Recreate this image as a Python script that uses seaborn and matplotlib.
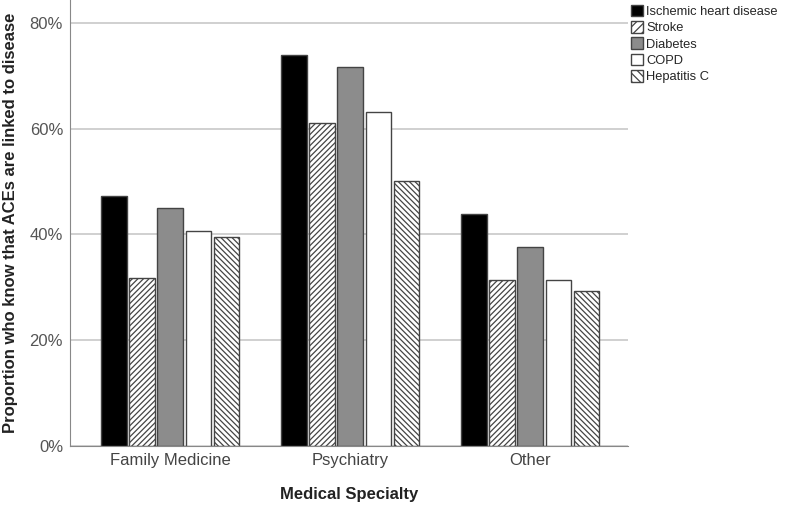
import matplotlib
matplotlib.use("Agg")
import matplotlib.pyplot as plt
import seaborn as sns
import pandas as pd
from matplotlib.patches import Patch

specialties = ["Family Medicine", "Psychiatry", "Other"]
diseases = ["Ischemic heart disease", "Stroke", "Diabetes", "COPD", "Hepatitis C"]
ischemic = [47.3, 73.9, 43.9]
stroke = [31.8, 61.1, 31.4]
diabetes = [45.0, 71.7, 37.6]
copd = [40.7, 63.2, 31.4]
hepatitis_c = [39.5, 50.1, 29.3]
y_ticks = [0, 20, 40, 60, 80]
y_tick_labels = ["0%", "20%", "40%", "60%", "80%"]

series = [ischemic, stroke, diabetes, copd, hepatitis_c]
rows = []
for d, vals in zip(diseases, series):
    for s, v in zip(specialties, vals):
        rows.append({"Specialty": s, "Disease": d, "Value": v})
df = pd.DataFrame(rows)

sns.set_style("white")
plt.rcParams["font.family"] = ["Liberation Sans", "DejaVu Sans"]
plt.rcParams["hatch.linewidth"] = 0.9
plt.rcParams["hatch.color"] = "#333333"

fills = ["#000000", "#ffffff", "#8c8c8c", "#ffffff", "#ffffff"]
hatches = [None, "//////", None, None, "\\\\\\\\\\\\"]

fig = plt.figure(figsize=(7.87, 5.05), dpi=100)
ax = fig.add_axes([70/787, 59/505, (628-70)/787, 446/505])

sns.barplot(data=df, x="Specialty", y="Value", hue="Disease", order=specialties,
            hue_order=diseases, palette=fills, width=0.78, gap=0.1,
            edgecolor="#444444", linewidth=1.0, legend=False, ax=ax, errorbar=None,
            saturation=1)

for cont, fc, h in zip(ax.containers, fills, hatches):
    for bar in cont:
        bar.set_facecolor(fc)
        bar.set_edgecolor("#444444")
        if h:
            bar.set_hatch(h)

ax.set_xlim(-0.556, 2.544)
ax.set_ylim(0, 84.3)
ax.set_yticks(y_ticks)
ax.set_yticklabels(y_tick_labels)
ax.yaxis.grid(True, color="#c8c8c8", linewidth=1.2)
ax.set_axisbelow(True)
for side in ["top", "right"]:
    ax.spines[side].set_visible(False)
ax.spines["left"].set_color("#888888")
ax.spines["bottom"].set_color("#888888")
ax.tick_params(axis="both", colors="#555555", labelsize=12, length=0, pad=5)
ax.tick_params(axis="x", labelcolor="#444444")
ax.set_xlabel("Medical Specialty", fontsize=12, fontweight="bold", labelpad=14, color="#222222")
ax.set_ylabel("Proportion who know that ACEs are linked to disease", fontsize=12,
              fontweight="bold", labelpad=8, color="#222222")

handles = [Patch(facecolor=fc, edgecolor="#444444", hatch=(h[:4] if h else None), label=d)
           for fc, h, d in zip(fills, hatches, diseases)]
fig.legend(handles=handles, loc="upper left", bbox_to_anchor=(626/787, 1.0),
           frameon=False, fontsize=9.3, handlelength=1.0, handleheight=1.0,
           handletextpad=0.2, labelspacing=0.25, borderaxespad=0.15, borderpad=0.2)

fig.savefig("out.png", dpi=100)
